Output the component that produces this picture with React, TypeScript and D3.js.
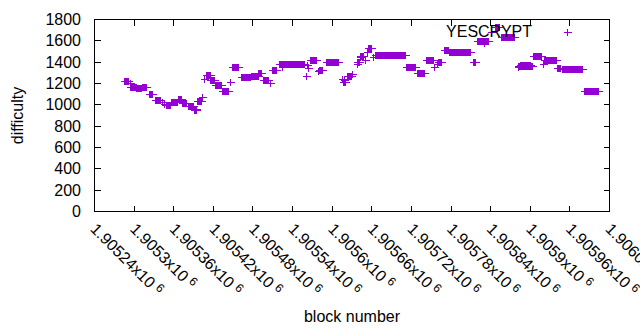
import React, { useEffect, useRef } from 'react';
import * as d3 from 'd3';

// YESCRYPT difficulty read off the plot as runs of equal value:
// [first block, last block, difficulty]. A single block is just start == end.
const yescryptRuns: [number, number, number][] = [
  [1905285, 1905291, 1216],
  [1905294, 1905294, 1203],
  [1905295, 1905304, 1160],
  [1905304, 1905311, 1150],
  [1905313, 1905319, 1165],
  [1905323, 1905328, 1095],
  [1905332, 1905340, 1045],
  [1905343, 1905343, 1025],
  [1905346, 1905346, 1000],
  [1905349, 1905355, 990],
  [1905357, 1905366, 1020],
  [1905367, 1905372, 1050],
  [1905373, 1905379, 1010],
  [1905382, 1905390, 980],
  [1905391, 1905394, 947],
  [1905395, 1905395, 955],
  [1905396, 1905402, 1030],
  [1905404, 1905404, 1066],
  [1905407, 1905407, 1237],
  [1905410, 1905416, 1275],
  [1905416, 1905422, 1225],
  [1905423, 1905432, 1180],
  [1905434, 1905443, 1125],
  [1905446, 1905446, 1209],
  [1905449, 1905458, 1350],
  [1905463, 1905476, 1255],
  [1905478, 1905488, 1265],
  [1905488, 1905493, 1290],
  [1905496, 1905504, 1228],
  [1905507, 1905507, 1197],
  [1905510, 1905516, 1320],
  [1905520, 1905558, 1380],
  [1905525, 1905525, 1353],
  [1905561, 1905561, 1263],
  [1905563, 1905563, 1366],
  [1905564, 1905564, 1340],
  [1905567, 1905576, 1415],
  [1905579, 1905579, 1312],
  [1905581, 1905585, 1320],
  [1905591, 1905610, 1397],
  [1905616, 1905616, 1237],
  [1905617, 1905620, 1205],
  [1905619, 1905619, 1230],
  [1905623, 1905629, 1270],
  [1905631, 1905631, 1283],
  [1905638, 1905641, 1397],
  [1905638, 1905638, 1378],
  [1905643, 1905647, 1453],
  [1905643, 1905643, 1440],
  [1905650, 1905650, 1416],
  [1905653, 1905653, 1494],
  [1905655, 1905660, 1528],
  [1905663, 1905663, 1440],
  [1905666, 1905711, 1460],
  [1905713, 1905726, 1350],
  [1905729, 1905740, 1295],
  [1905743, 1905753, 1420],
  [1905755, 1905755, 1353],
  [1905760, 1905760, 1378],
  [1905761, 1905766, 1400],
  [1905770, 1905776, 1510],
  [1905778, 1905810, 1490],
  [1905814, 1905817, 1400],
  [1905820, 1905837, 1590],
  [1905831, 1905831, 1572],
  [1905841, 1905841, 1681],
  [1905847, 1905853, 1728],
  [1905856, 1905876, 1630],
  [1905882, 1905882, 1353],
  [1905882, 1905903, 1355],
  [1905885, 1905900, 1365],
  [1905905, 1905917, 1450],
  [1905920, 1905920, 1378],
  [1905922, 1905940, 1413],
  [1905941, 1905946, 1345],
  [1905949, 1905979, 1330],
  [1905982, 1906003, 1122],
];

const xTicks = [
  1905240, 1905300, 1905360, 1905420, 1905480, 1905540, 1905600,
  1905660, 1905720, 1905780, 1905840, 1905900, 1905960, 1906020,
];
const yTicks = [0, 200, 400, 600, 800, 1000, 1200, 1400, 1600, 1800];
const seriesName = 'YESCRYPT';

const PURPLE = '#9400d3';
const FONT = '"Liberation Sans", Arial, sans-serif';

const App: React.FC = () => {
  const svgRef = useRef<SVGSVGElement>(null);

  useEffect(() => {
    if (!svgRef.current) return;
    const width = 640;
    const height = 330;
    const left = 94.5, right = 609.5, top = 19.5, bottom = 211.5;

    const svg = d3.select(svgRef.current);
    svg.selectAll('*').remove();
    svg.attr('width', width).attr('height', height);

    svg.append('rect').attr('width', width).attr('height', height).attr('fill', '#fff');

    const x = d3.scaleLinear().domain([xTicks[0], xTicks[xTicks.length - 1]]).range([left, right]);
    const y = d3.scaleLinear().domain([0, 1800]).range([bottom, top]);
    const px = (v: number) => Math.round(v - 0.5) + 0.5;

    // gnuplot-style "+" points; a run of consecutive points merges into a bar with arms
    const drawRun = (g: d3.Selection<SVGGElement, unknown, null, undefined>, x0: number, x1: number, yy: number) => {
      g.append('rect')
        .attr('x', x0 - 0.5)
        .attr('y', yy - 3.5)
        .attr('width', x1 - x0 + 1)
        .attr('height', 7)
        .attr('fill', PURPLE);
      g.append('line')
        .attr('x1', x0 - 4)
        .attr('x2', x1 + 4)
        .attr('y1', yy)
        .attr('y2', yy)
        .attr('stroke', PURPLE)
        .attr('stroke-width', 1);
    };

    const marks = svg.append('g').attr('shape-rendering', 'crispEdges');
    yescryptRuns.forEach(([b0, b1, v]) => {
      drawRun(marks, px(x(b0)), px(x(b1)), px(y(v)));
    });

    // frame + ticks (mirrored, pointing inward)
    const axes = svg.append('g').attr('shape-rendering', 'crispEdges').attr('stroke', '#000');
    axes.append('rect')
      .attr('x', left).attr('y', top)
      .attr('width', right - left).attr('height', bottom - top)
      .attr('fill', 'none');
    yTicks.forEach(t => {
      const yy = px(y(t));
      axes.append('line').attr('x1', left).attr('x2', left + 6).attr('y1', yy).attr('y2', yy);
      axes.append('line').attr('x1', right).attr('x2', right - 6).attr('y1', yy).attr('y2', yy);
    });
    xTicks.forEach(t => {
      const xx = px(x(t));
      axes.append('line').attr('x1', xx).attr('x2', xx).attr('y1', bottom).attr('y2', bottom - 6);
      axes.append('line').attr('x1', xx).attr('x2', xx).attr('y1', top).attr('y2', top + 6);
    });

    const text = svg.append('g').attr('font-family', FONT).attr('font-size', 16).attr('fill', '#000');

    yTicks.forEach(t => {
      text.append('text')
        .attr('x', 81)
        .attr('y', y(t))
        .attr('dy', '0.35em')
        .attr('text-anchor', 'end')
        .text(d3.format('d')(t));
    });

    xTicks.forEach(t => {
      const label = text.append('text')
        .attr('transform', `translate(${x(t) - 1},${226}) rotate(45)`)
        .attr('dy', '0.35em');
      label.append('tspan').text(`${+(t / 1e6).toFixed(5)}x10`);
      label.append('tspan').attr('dx', 4).attr('dy', -5).attr('font-size', 12).text('6');
    });

    text.append('text')
      .attr('x', (left + right) / 2)
      .attr('y', 316)
      .attr('dy', '0.35em')
      .attr('text-anchor', 'middle')
      .text('block number');

    text.append('text')
      .attr('transform', `translate(17,${(top + bottom) / 2}) rotate(-90)`)
      .attr('dy', '0.35em')
      .attr('text-anchor', 'middle')
      .text('difficulty');

    // key
    text.append('text')
      .attr('x', 532)
      .attr('y', 31.5)
      .attr('dy', '0.35em')
      .attr('text-anchor', 'end')
      .text(seriesName);
    const key = svg.append('g').attr('shape-rendering', 'crispEdges');
    drawRun(key, 567.5, 567.5, 32.5);
  }, []);

  return <svg ref={svgRef} style={{ position: 'absolute', left: 0, top: 0, display: 'block' }} />;
};

export default App;
